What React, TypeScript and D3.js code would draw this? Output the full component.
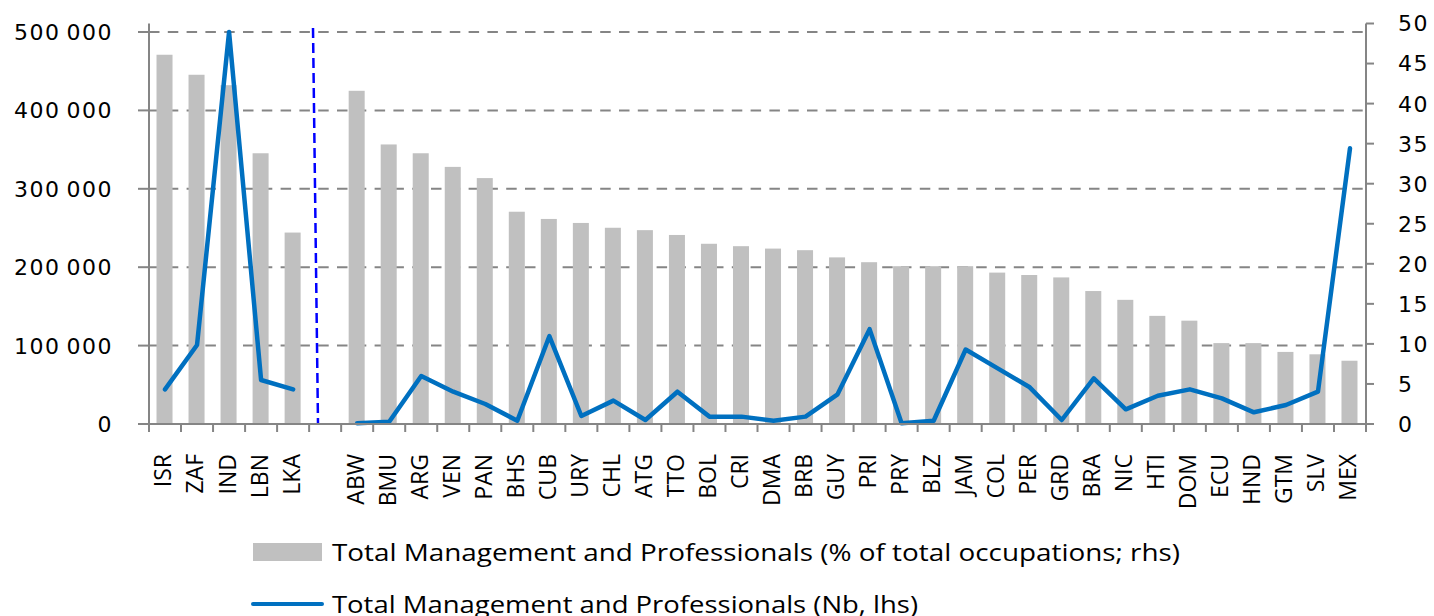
import React from "react";
import * as d3 from "d3";

const categories = [
  "ISR", "ZAF", "IND", "LBN", "LKA", "",
  "ABW", "BMU", "ARG", "VEN", "PAN", "BHS", "CUB", "URY", "CHL", "ATG", "TTO",
  "BOL", "CRI", "DMA", "BRB", "GUY", "PRI", "PRY", "BLZ", "JAM", "COL", "PER",
  "GRD", "BRA", "NIC", "HTI", "DOM", "ECU", "HND", "GTM", "SLV", "MEX",
];

// % of total occupations (rhs) - bars
const sharePct: (number | null)[] = [
  46.1, 43.6, 42.3, 33.8, 23.9, null,
  41.6, 34.9, 33.8, 32.1, 30.7, 26.5, 25.6, 25.1, 24.5, 24.2, 23.6,
  22.5, 22.2, 21.9, 21.7, 20.8, 20.2, 19.7, 19.7, 19.7, 18.9, 18.6,
  18.3, 16.6, 15.5, 13.5, 12.9, 10.1, 10.1, 9.0, 8.7, 7.9,
];

// Number (lhs) - line
const numberNb: (number | null)[] = [
  44200, 100800, 500000, 56100, 44200, null,
  900, 2900, 61200, 41200, 25500, 4200, 112000, 10200, 29800, 5100, 41200,
  9400, 9400, 4200, 9400, 37800, 121000, 900, 4200, 95000, 71000, 46800,
  5100, 58300, 18700, 36100, 44200, 32700, 14900, 24200, 41200, 351600,
];

const leftTicks = [0, 100000, 200000, 300000, 400000, 500000];
const rightTicks = [0, 5, 10, 15, 20, 25, 30, 35, 40, 45, 50];

const legendBar = "Total Management and Professionals (% of total occupations;  rhs)";
const legendLine = "Total Management and Professionals (Nb, lhs)";

const W = 1434;
const H = 616;
const plotLeft = 149;
const plotRight = 1366;
const plotTop = 23.5;
const plotBottom = 424;

const fmtLeft = d3.formatLocale({ decimal: ",", thousands: "\u2009", grouping: [3], currency: ["", ""] }).format(",d");

export default function App() {
  const x = d3
    .scaleBand<number>()
    .domain(d3.range(categories.length))
    .range([plotLeft, plotRight])
    .paddingInner(0)
    .paddingOuter(0);
  const yLeft = d3.scaleLinear().domain([0, 500000]).range([plotBottom, 32]);
  const yRight = d3.scaleLinear().domain([0, 50]).range([plotBottom, plotTop]);
  const bw = x.bandwidth() * 0.5;
  const cx = (i: number) => (x(i) as number) + x.bandwidth() / 2;

  const lineGen = d3
    .line<number | null>()
    .defined((d) => d !== null)
    .x((_, i) => cx(i))
    .y((d) => yLeft(d as number));

  const gridColor = "#858585";
  const numFont = "'DejaVu Sans', sans-serif";
  const txtFont = "'Open Sans', sans-serif";

  return (
    <svg
      width={W}
      height={H}
      style={{ position: "absolute", left: 0, top: 0, background: "#fff" }}
    >
      {/* gridlines */}
      {leftTicks.slice(1).map((t) => (
        <line
          key={"g" + t}
          x1={plotLeft}
          x2={plotRight}
          y1={yLeft(t)}
          y2={yLeft(t)}
          stroke={gridColor}
          strokeWidth={2}
          strokeDasharray="10.5 8.3"
        />
      ))}

      {/* bars */}
      {sharePct.map((v, i) =>
        v === null ? null : (
          <rect
            key={"b" + i}
            x={cx(i) - bw / 2 - 0.5}
            y={yRight(v)}
            width={bw}
            height={plotBottom - yRight(v)}
            fill="#C0C0C0"
          />
        )
      )}

      {/* separator */}
      <line x1={313} y1={28} x2={318} y2={plotBottom} stroke="#0000FF" strokeWidth={2.5} strokeDasharray="10 5" />

      {/* line */}
      <path
        d={lineGen(numberNb) || ""}
        fill="none"
        stroke="#0070C0"
        strokeWidth={4.5}
        strokeLinejoin="round"
        strokeLinecap="round"
      />

      {/* axes */}
      <line x1={plotLeft} x2={plotLeft} y1={plotTop} y2={plotBottom} stroke={gridColor} strokeWidth={2} />
      <line x1={plotRight} x2={plotRight} y1={plotTop} y2={plotBottom} stroke={gridColor} strokeWidth={2} />
      <line x1={138} x2={plotRight} y1={plotBottom} y2={plotBottom} stroke={gridColor} strokeWidth={2} />
      {leftTicks.map((t) => (
        <line key={"lt" + t} x1={138} x2={plotLeft} y1={yLeft(t)} y2={yLeft(t)} stroke={gridColor} strokeWidth={2} />
      ))}
      {rightTicks.map((t) => (
        <line key={"rt" + t} x1={plotRight} x2={plotRight + 8} y1={yRight(t)} y2={yRight(t)} stroke={gridColor} strokeWidth={2} />
      ))}
      {d3.range(categories.length + 1).map((i) => {
        const xx = i < categories.length ? (x(i) as number) : plotRight;
        return <line key={"xt" + i} x1={xx} x2={xx} y1={plotBottom} y2={plotBottom + 8} stroke={gridColor} strokeWidth={2} />;
      })}

      {/* left tick labels */}
      {leftTicks.map((t) => (
        <text
          key={"ll" + t}
          x={113}
          y={yLeft(t)}
          dy="0.36em"
          textAnchor="end"
          fontFamily={numFont}
          fontSize={22}
          letterSpacing={1.5}
          fill="#000"
        >
          {fmtLeft(t)}
        </text>
      ))}

      {/* right tick labels */}
      {rightTicks.map((t) => (
        <text
          key={"rl" + t}
          x={1398}
          y={yRight(t)}
          dy="0.36em"
          textAnchor="start"
          fontFamily={numFont}
          fontSize={22}
          letterSpacing={1.5}
          fill="#000"
        >
          {t}
        </text>
      ))}

      {/* category labels */}
      {categories.map((c, i) =>
        c ? (
          <text
            key={"c" + i}
            transform={`translate(${cx(i)},454) rotate(-90)`}
            dy="0.28em"
            textAnchor="end"
            fontFamily={txtFont}
            fontSize={23}
            fill="#000"
          >
            {c}
          </text>
        ) : null
      )}

      {/* legend */}
      <rect x={253} y={543} width={69} height={18} fill="#C0C0C0" />
      <text
        x={332}
        y={561}
        fontFamily={txtFont}
        fontSize={24}
        fill="#000"
        textLength={848}
        lengthAdjust="spacingAndGlyphs"
      >
        {legendBar}
      </text>
      <line x1={253} x2={322} y1={604} y2={604} stroke="#0070C0" strokeWidth={4} strokeLinecap="round" />
      <text
        x={332}
        y={613}
        fontFamily={txtFont}
        fontSize={24}
        fill="#000"
        textLength={586}
        lengthAdjust="spacingAndGlyphs"
      >
        {legendLine}
      </text>
    </svg>
  );
}
